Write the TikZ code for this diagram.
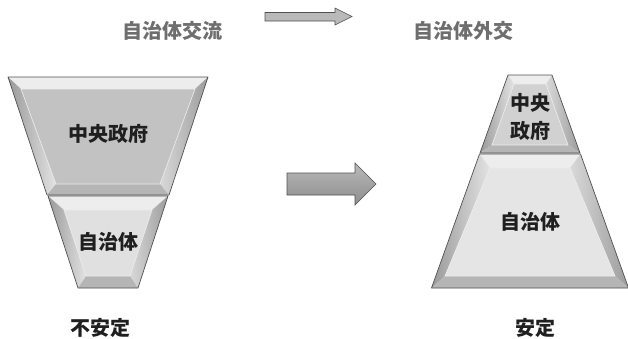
\documentclass[tikz,border=0pt]{standalone}
\usepackage{fontspec}
\newfontfamily\cjk{Noto Sans CJK JP}
\usetikzlibrary{calc}
\definecolor{toplabel}{HTML}{6E6E6E}
\definecolor{edgecol}{HTML}{505050}
\tikzset{
  lbl/.style={font=\cjk\bfseries\fontsize{20}{22}\selectfont, text=black!88, inner sep=0pt},
  toplbl/.style={font=\cjk\bfseries\fontsize{20}{22}\selectfont, text=toplabel, inner sep=0pt},
  outline/.style={draw=edgecol, line width=0.7pt, line join=round},
}
% #1 cx, #2 y1, #3 w1, #4 y2, #5 w2, #6 iy1, #7 iw1, #8 iy2, #9 iw2 ; face colour in \facecol
\newcommand\bevtrap[9]{%
  \coordinate (oTL) at ({#1-#3},{-#2});
  \coordinate (oTR) at ({#1+#3},{-#2});
  \coordinate (oBR) at ({#1+#5},{-#4});
  \coordinate (oBL) at ({#1-#5},{-#4});
  \coordinate (iTL) at ({#1-#7},{-#6});
  \coordinate (iTR) at ({#1+#7},{-#6});
  \coordinate (iBR) at ({#1+#9},{-#8});
  \coordinate (iBL) at ({#1-#9},{-#8});
  \fill[gray!14] (oTL) -- (oTR) -- (iTR) -- (iTL) -- cycle;
  \shade[left color=gray!80, right color=gray!22] (oTL) -- (iTL) -- (iBL) -- (oBL) -- cycle;
  \shade[left color=gray!30, right color=gray!78] (oTR) -- (oBR) -- (iBR) -- (iTR) -- cycle;
  \fill[gray!58] (oBL) -- (oBR) -- (iBR) -- (iBL) -- cycle;
  \fill[\facecol] (iTL) -- (iTR) -- (iBR) -- (iBL) -- cycle;
  \draw[white!85!gray, line width=0.6pt] (iTL) -- (iTR) -- (iBR) -- (iBL) -- cycle;
  \draw[outline] (oTL) -- (oTR) -- (oBR) -- (oBL) -- cycle;
}
\begin{document}
\begin{tikzpicture}[x=1pt,y=1pt]
\useasboundingbox (0,0) rectangle (628,-338);
\fill[white] (0,0) rectangle (628,-338);

% top labels and arrow
\node[toplbl] (tl) at (172,-31) {自治体交流};
\node[toplbl] (tr) at (463,-31) {自治体外交};
\draw[fill=gray!55, draw=edgecol, line width=0.6pt, line join=miter]
  (265,-12.5) -- (335,-12.5) -- (335,-8) -- (352,-16.5) -- (335,-25) -- (335,-21) -- (265,-21) -- cycle;

% left funnel (unstable)
\def\facecol{gray!48}
\bevtrap{108}{77}{100}{195}{61}{89}{87}{184}{52}
\def\facecol{gray!24}
\bevtrap{108}{196}{60}{288}{30}{210}{44}{276}{22}
\node[lbl] (lcg) at (108,-134) {中央政府};
\node[lbl] (llg) at (108,-242) {自治体};
\node[lbl] (lst) at (100,-328) {不安定};

% middle arrow
\shade[top color=gray!55, bottom color=gray!88, middle color=gray!72, draw=edgecol, line width=0.6pt, line join=miter]
  (287,-173) -- (355,-173) -- (355,-163) -- (376,-184) -- (355,-205) -- (355,-195) -- (287,-195) -- cycle;

% right pyramid (stable)
\def\facecol{gray!36}
\bevtrap{530}{75}{22}{153}{50}{84}{16}{145}{38}
\def\facecol{gray!20}
\bevtrap{530}{154}{50.5}{288}{98.5}{168}{40}{276}{85}
\node[lbl] (rcg1) at (530,-103) {中央};
\node[lbl] (rcg2) at (530,-131) {政府};
\node[lbl] (rlg) at (530,-222) {自治体};
\node[lbl] (rst) at (535,-328) {安定};
\end{tikzpicture}
\end{document}
